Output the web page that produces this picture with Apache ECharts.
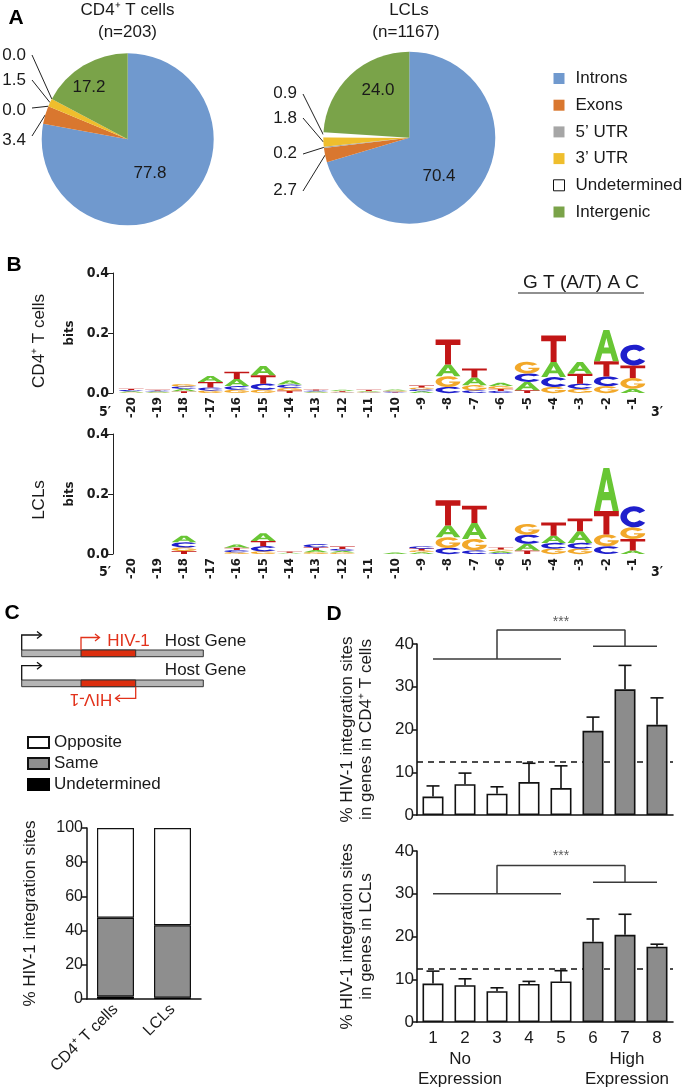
<!DOCTYPE html>
<html><head><meta charset="utf-8">
<script src="https://cdn.jsdelivr.net/npm/echarts@6/dist/echarts.min.js"></script>
<style>html,body{margin:0;padding:0;background:#fff}#c{width:687px;height:1092px}</style>
</head><body><div id="c"></div>
<script>
// ---------------- DATA ----------------
// Panel A
const pieCategories = ['Introns', 'Exons', '5’ UTR', '3’ UTR', 'Undetermined', 'Intergenic'];
const cd4PieValues = [77.8, 3.4, 0.0, 1.5, 0.0, 17.2];
const lclPieValues = [70.4, 2.7, 0.2, 1.8, 0.9, 24.0];

// Panel B (bits per nucleotide at positions -20..-1)
const logoPositions = ['-20','-19','-18','-17','-16','-15','-14','-13','-12','-11','-10','-9','-8','-7','-6','-5','-4','-3','-2','-1'];
const cd4A = [0.004,0.003,0.008,0.020,0.024,0.031,0.014,0.003,0.004,0.003,0.004,0.006,0.039,0.026,0.011,0.028,0.050,0.039,0.104,0.014];
const cd4C = [0.004,0.003,0.008,0.010,0.012,0.020,0.011,0.003,0.002,0.002,0.003,0.006,0.020,0.009,0.007,0.028,0.033,0.017,0.032,0.069];
const cd4G = [0.002,0.002,0.008,0.008,0.011,0.011,0.009,0.002,0.002,0.002,0.003,0.006,0.036,0.017,0.009,0.039,0.020,0.014,0.023,0.036];
const cd4T = [0.004,0.003,0.006,0.019,0.024,0.028,0.008,0.004,0.003,0.004,0.002,0.007,0.083,0.030,0.007,0.009,0.089,0.033,0.051,0.042];
const lclA = [0,0,0.022,0,0.011,0.026,0.002,0.007,0.006,0,0.005,0.006,0.039,0.053,0.006,0.022,0.024,0.039,0.144,0.012];
const lclC = [0,0,0.017,0,0.007,0.017,0.001,0.011,0.006,0,0,0.008,0.020,0.012,0.003,0.030,0.019,0.019,0.026,0.070];
const lclG = [0,0,0.012,0,0.006,0.009,0.001,0.006,0.005,0,0,0.006,0.036,0.038,0.006,0.036,0.018,0.018,0.039,0.039];
const lclT = [0,0,0.010,0,0.008,0.017,0.004,0.009,0.008,0,0,0.006,0.084,0.058,0.007,0.012,0.044,0.042,0.078,0.038];

// Panel C
const orientCategories = ['CD4⁺ T cells', 'LCLs'];
const orientUndetermined = [1.5, 0.8];
const orientSame = [46.0, 42.3];
const orientOpposite = [52.5, 56.9];

// Panel D
const expressionBins = ['1','2','3','4','5','6','7','8'];
const cd4Mean  = [4.3, 7.2, 5.0, 7.7, 6.3, 19.7, 29.4, 21.1];
const cd4Upper = [6.8, 9.8, 6.6, 12.1, 11.5, 22.9, 35.0, 27.4];
const lclMean  = [9.0, 8.6, 7.2, 8.9, 9.5, 18.8, 20.4, 17.6];
const lclUpper = [11.9, 10.1, 8.0, 9.5, 12.0, 24.1, 25.2, 18.2];
const expectedRandom = 12.5;
const cd4Bracket = {low: 36.5, high: 39.5, top: 43.3, star: 45.2};
const lclBracket = {low: 30.0, high: 32.7, top: 36.6, star: 38.8};

// ---------------- STYLE ----------------
const FONT = '"Liberation Sans", Arial, Helvetica, sans-serif';
const NARROW = '"Liberation Sans Narrow", "DejaVu Sans Condensed", "Arial Narrow", sans-serif';
const TXT = '#1a1a1a';
const pieColors = ['#7099CE', '#D9772F', '#A6A6A6', '#EFBE2D', '#FFFFFF', '#7AA349'];
const letterColors = ['#68C634', '#1E1ECC', '#F2A82A', '#C21616'];
const GLYPHS = [
  'M38 0 L62 0 L100 100 L76 100 L67 75 L33 75 L24 100 L0 100 Z M40 56 L60 56 L50 26 Z',
  'M91 21.3 A50 50 0 1 0 91 78.7 L69.9 66.7 A26 26 0 1 1 69.9 33.3 Z',
  'M91 21.3 A50 50 0 1 0 100 50 L55 50 L55 61 L73.5 61 A26 26 0 1 1 69.9 33.3 Z',
  'M0 0 L100 0 L100 22 L62 22 L62 100 L38 100 L38 22 L0 22 Z'
];
// label placement for pies: [x, y, align, lineEndY]
const pie1Labels = [[150,173,'center'],[26,140,'right',136],[26,110,'right',108],[26,80,'right',80],[26,55,'right',55],[89,87,'center']];
const pie2Labels = [[439,176,'center'],[297,190,'right',191],[297,153,'right',154],[297,118,'right',118],[297,93,'right',94],[378,90,'center']];

function buildStacks(a, c, g, t) {
  const out = [];
  for (let i = 0; i < a.length; i++) {
    const items = [[0, a[i]], [1, c[i]], [2, g[i]], [3, t[i]]].sort((p, q) => p[1] - q[1]);
    let y = 0;
    for (const [li, h] of items) { if (h > 0) { out.push([i, y, y + h, li]); y += h; } }
  }
  return out;
}

function pieSeries(values, center, labels) {
  return {
    type: 'pie', center: center, radius: 86, startAngle: 90, clockwise: true,
    avoidLabelOverlap: false, animation: false, silent: true, emphasis: {disabled: true},
    label: {color: TXT, fontSize: 17, fontFamily: FONT, formatter: p => Number(p.value).toFixed(1)},
    data: values.map((v, i) => ({
      name: pieCategories[i], value: v, itemStyle: {color: pieColors[i]},
      label: {position: labels[i][2] === 'center' ? 'inside' : 'outside'},
      labelLine: {show: labels[i][2] !== 'center', length: 5, length2: 5, lineStyle: {color: '#222', width: 1}}
    })),
    labelLayout: function (p) {
      const L = labels[p.dataIndex];
      const o = {x: L[0], y: L[1], align: L[2], verticalAlign: 'middle'};
      if (L[2] !== 'center' && p.labelLinePoints) {
        const s = p.labelLinePoints[0];
        o.labelLinePoints = [s, s, [L[0] + 6, L[3]]];
      }
      return o;
    }
  };
}

function logoSeries(gridIdx, stacks) {
  return {
    type: 'custom', xAxisIndex: gridIdx, yAxisIndex: gridIdx, data: stacks, silent: true,
    encode: {x: 0, y: [1, 2]},
    renderItem: function (params, api) {
      const pos = api.value(0), y0 = api.value(1), y1 = api.value(2), li = api.value(3);
      const p0 = api.coord([pos, y0]), p1 = api.coord([pos, y1]);
      const w = api.size([1, 0])[0] * 0.94;
      const h = p0[1] - p1[1];
      if (h < 0.4) return null;
      return {type: 'path', shape: {pathData: GLYPHS[li], x: p0[0] - w / 2, y: p1[1], width: w, height: h, layout: 'cover'},
              style: {fill: letterColors[li]}};
    }
  };
}

function errSeries(gridIdx, means, uppers) {
  return {
    type: 'custom', xAxisIndex: gridIdx, yAxisIndex: gridIdx, z: 5, silent: true,
    data: means.map((m, i) => [i, m, uppers[i]]), encode: {x: 0, y: [1, 2]},
    renderItem: function (params, api) {
      const a = api.coord([api.value(0), api.value(1)]);
      const b = api.coord([api.value(0), api.value(2)]);
      const st = {stroke: '#111', lineWidth: 1.6};
      return {type: 'group', children: [
        {type: 'line', shape: {x1: a[0], y1: a[1], x2: b[0], y2: b[1]}, style: st},
        {type: 'line', shape: {x1: b[0] - 6.5, y1: b[1], x2: b[0] + 6.5, y2: b[1]}, style: st}
      ]};
    }
  };
}

function barSeries(gridIdx, means) {
  return {
    type: 'bar', xAxisIndex: gridIdx, yAxisIndex: gridIdx, data: means, barWidth: 21, z: 3, silent: true,
    itemStyle: {color: p => p.dataIndex < 5 ? '#ffffff' : '#8C8C8C', borderColor: '#111', borderWidth: 1.6},
    markLine: {silent: true, symbol: 'none', z: 1, label: {show: false},
      lineStyle: {color: '#111', type: [6, 5], width: 1.5}, data: [{yAxis: expectedRandom}]}
  };
}

function bracketSeries(gridIdx, b) {
  const st = {color: '#3a3a3a', width: 1.5};
  const mk = d => ({type: 'line', xAxisIndex: gridIdx, yAxisIndex: gridIdx, data: d, clip: false, symbol: 'none',
    silent: true, lineStyle: st, z: 6, animation: false});
  return [
    mk([[0, b.low], [4, b.low]]),
    mk([[5, b.high], [7, b.high]]),
    mk([[2, b.low], [2, b.top], [6, b.top], [6, b.high]]),
    {type: 'scatter', xAxisIndex: gridIdx, yAxisIndex: gridIdx, data: [[4, b.star]], clip: false, symbolSize: 1,
     itemStyle: {color: 'rgba(0,0,0,0)'}, silent: true,
     label: {show: true, position: 'inside', formatter: '***', fontSize: 14, color: '#333', fontFamily: FONT}}
  ];
}

const logoX = (gi) => ({
  type: 'category', gridIndex: gi, data: logoPositions, boundaryGap: true,
  axisLine: {show: false}, axisTick: {show: false},
  axisLabel: {rotate: 90, interval: 0, margin: 4, fontSize: 13, fontWeight: 'bold', fontFamily: NARROW, color: TXT}
});
const logoY = (gi) => ({
  type: 'value', gridIndex: gi, min: 0, max: 0.4, interval: 0.2, offset: 5,
  splitLine: {show: false},
  axisLine: {show: true, lineStyle: {color: '#222', width: 1}},
  axisTick: {show: true, length: 5, lineStyle: {color: '#222'}},
  axisLabel: {margin: 4, fontSize: 14, fontWeight: 'bold', fontFamily: NARROW, color: TXT, formatter: v => v.toFixed(1)},
  name: 'bits', nameLocation: 'middle', nameGap: 27,
  nameTextStyle: {fontSize: 13, fontWeight: 'bold', fontFamily: NARROW, color: TXT}
});
const dX = (gi, showLabels) => ({
  type: 'category', gridIndex: gi, data: expressionBins, boundaryGap: true,
  axisLine: {lineStyle: {color: '#111', width: 1.6}},
  axisTick: {alignWithLabel: true, length: 5, lineStyle: {color: '#111', width: 1.5}},
  axisLabel: {show: showLabels, margin: 8, fontSize: 17, fontFamily: FONT, color: TXT}
});
const dY = (gi, name) => ({
  type: 'value', gridIndex: gi, min: 0, max: 40, interval: 10,
  splitLine: {show: false},
  axisLine: {show: true, lineStyle: {color: '#111', width: 1.6}},
  axisTick: {show: true, length: 4, lineStyle: {color: '#111', width: 1.5}},
  axisLabel: {margin: 3, fontSize: 17, fontFamily: FONT, color: TXT},
  name: name, nameLocation: 'middle', nameGap: 41,
  nameTextStyle: {fontSize: 17, fontFamily: FONT, color: TXT, lineHeight: 19}
});

const T = (text, x, y, o) => ({type: 'text', x: x, y: y, rotation: (o && o.rot) || 0, silent: true,
  style: Object.assign({text: text, fill: TXT, font: '17px ' + FONT, align: 'center', verticalAlign: 'middle'}, (o && o.style) || {})});
const PL = (pts, color) => ({type: 'polyline', silent: true, shape: {points: pts}, style: {stroke: color, lineWidth: 1.3, fill: null}});
const RED = '#E2321B';

const option = {
  animation: false,
  backgroundColor: '#ffffff',
  textStyle: {fontFamily: FONT},
  grid: [
    {left: 118, top: 273, width: 528, height: 120},
    {left: 118, top: 434, width: 528, height: 120},
    {left: 87, top: 828, width: 114, height: 171},
    {left: 417, top: 644, width: 256, height: 171},
    {left: 417, top: 851, width: 256, height: 171}
  ],
  xAxis: [
    logoX(0), logoX(1),
    {type: 'category', gridIndex: 2, data: orientCategories, boundaryGap: true,
     axisLine: {lineStyle: {color: '#111', width: 1.5}},
     axisTick: {alignWithLabel: true, length: 5, lineStyle: {color: '#111', width: 1.5}},
     axisLabel: {rotate: 45, interval: 0, margin: 8, fontSize: 16, fontFamily: FONT, color: TXT}},
    dX(3, false), dX(4, true)
  ],
  yAxis: [
    logoY(0), logoY(1),
    {type: 'value', gridIndex: 2, min: 0, max: 100, interval: 20, splitLine: {show: false},
     axisLine: {show: true, lineStyle: {color: '#111', width: 1.5}},
     axisTick: {show: true, length: 5, lineStyle: {color: '#111', width: 1.5}},
     axisLabel: {margin: 4, fontSize: 16, fontFamily: FONT, color: TXT},
     name: '% HIV-1 integration sites', nameLocation: 'middle', nameGap: 48,
     nameTextStyle: {fontSize: 17, fontFamily: FONT, color: TXT}},
    dY(3, '% HIV-1 integration sites\nin genes in CD4⁺ T cells'),
    dY(4, '% HIV-1 integration sites\nin genes in LCLs')
  ],
  legend: [
    {orient: 'vertical', left: 548, top: 65, itemWidth: 11, itemHeight: 11, itemGap: 9.7, icon: 'rect',
     selectedMode: false, textStyle: {fontSize: 17, fontFamily: FONT, color: TXT, lineHeight: 17, padding: [0, 0, 0, 6]},
     data: pieCategories.map(n => n === 'Undetermined' ? {name: n, itemStyle: {borderColor: '#111', borderWidth: 1}} : {name: n})},
    {orient: 'vertical', left: 22, top: 729, itemWidth: 21, itemHeight: 11, itemGap: 4, icon: 'rect',
     selectedMode: false, textStyle: {fontSize: 17, fontFamily: FONT, color: TXT, lineHeight: 17, padding: [0, 0, 0, 0]},
     data: ['Opposite', 'Same', 'Undetermined ']}
  ],
  series: [
    pieSeries(cd4PieValues, [127.7, 139.3], pie1Labels),
    pieSeries(lclPieValues, [409.3, 137.7], pie2Labels),
    logoSeries(0, buildStacks(cd4A, cd4C, cd4G, cd4T)),
    logoSeries(1, buildStacks(lclA, lclC, lclG, lclT)),
    {type: 'bar', name: 'Undetermined ', xAxisIndex: 2, yAxisIndex: 2, stack: 'o', data: orientUndetermined, barWidth: 37, silent: true,
     itemStyle: {color: '#000', borderColor: '#000', borderWidth: 1}},
    {type: 'bar', name: 'Same', xAxisIndex: 2, yAxisIndex: 2, stack: 'o', data: orientSame, barWidth: 37, silent: true,
     itemStyle: {color: '#8E8E8E', borderColor: '#111', borderWidth: 1.2}},
    {type: 'bar', name: 'Opposite', xAxisIndex: 2, yAxisIndex: 2, stack: 'o', data: orientOpposite, barWidth: 37, silent: true,
     itemStyle: {color: '#fff', borderColor: '#111', borderWidth: 1.2}},
    barSeries(3, cd4Mean), errSeries(3, cd4Mean, cd4Upper),
    barSeries(4, lclMean), errSeries(4, lclMean, lclUpper),
    ...bracketSeries(3, cd4Bracket),
    ...bracketSeries(4, lclBracket)
  ],
  graphic: [
    // panel letters
    T('A', 16, 18, {style: {font: 'bold 21px ' + FONT, fill: '#000'}}),
    T('B', 14, 265, {style: {font: 'bold 21px ' + FONT, fill: '#000'}}),
    T('C', 12, 613, {style: {font: 'bold 21px ' + FONT, fill: '#000'}}),
    T('D', 334, 614, {style: {font: 'bold 21px ' + FONT, fill: '#000'}}),
    // pie titles
    T('CD4⁺ T cells', 127.5, 10), T('(n=203)', 127.5, 32),
    T('LCLs', 409, 10), T('(n=1167)', 406, 32),
    // logos
    T('CD4⁺ T cells', 39, 341, {rot: Math.PI / 2}),
    T('LCLs', 39, 500, {rot: Math.PI / 2}),
    T('5′', 105, 412, {style: {font: 'bold 14px ' + NARROW}}),
    T('3′', 657, 412, {style: {font: 'bold 14px ' + NARROW}}),
    T('5′', 105, 572, {style: {font: 'bold 14px ' + NARROW}}),
    T('3′', 657, 572, {style: {font: 'bold 14px ' + NARROW}}),
    T('G T (A/T) A C', 581, 283, {style: {font: '19px ' + FONT}}),
    {type: 'line', silent: true, shape: {x1: 518, y1: 293, x2: 644, y2: 293}, style: {stroke: '#222', lineWidth: 1.2}},
    // panel C diagram
    {type: 'rect', silent: true, shape: {x: 21.7, y: 650, width: 181.6, height: 6.7}, style: {fill: '#B5B5B5', stroke: '#333', lineWidth: 1}},
    {type: 'rect', silent: true, shape: {x: 81, y: 650, width: 54.7, height: 6.7}, style: {fill: '#DC2E0E', stroke: '#333', lineWidth: 1}},
    {type: 'rect', silent: true, shape: {x: 21.7, y: 680, width: 181.6, height: 6.7}, style: {fill: '#B5B5B5', stroke: '#333', lineWidth: 1}},
    {type: 'rect', silent: true, shape: {x: 81, y: 680, width: 54.7, height: 6.7}, style: {fill: '#DC2E0E', stroke: '#333', lineWidth: 1}},
    PL([[21.7, 650], [21.7, 635], [41, 635]], '#111'), PL([[37, 631.5], [41.5, 635], [37, 638.5]], '#111'),
    PL([[21.7, 680], [21.7, 665.7], [41, 665.7]], '#111'), PL([[37, 662.2], [41.5, 665.7], [37, 669.2]], '#111'),
    PL([[81, 650], [81, 637.5], [99, 637.5]], RED), PL([[95, 634], [99.5, 637.5], [95, 641]], RED),
    PL([[135.7, 686.7], [135.7, 698.3], [116, 698.3]], RED), PL([[120, 694.8], [115.5, 698.3], [120, 701.8]], RED),
    T('HIV-1', 128.5, 641.5, {style: {fill: RED}}),
    T('Host Gene', 205.5, 641), T('Host Gene', 205.5, 670),
    T('HIV-1', 91, 699, {rot: Math.PI, style: {fill: RED}}),
    // panel D bottom labels
    T('No', 460, 1059), T('Expression', 460, 1079),
    T('High', 627, 1059), T('Expression', 627, 1079)
  ]
};

const chart = echarts.init(document.getElementById('c'), null, {renderer: 'canvas', width: 687, height: 1092});
chart.setOption(option);
</script>
</body></html>
